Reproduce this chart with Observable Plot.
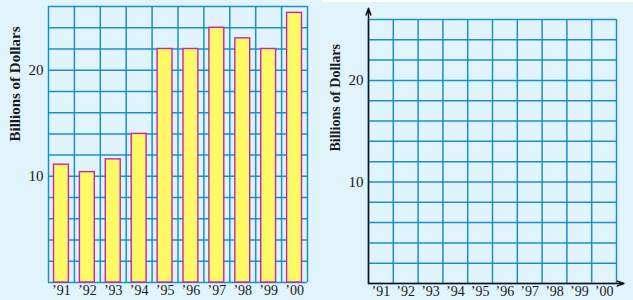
<!DOCTYPE html>
<html>
<head>
<meta charset="utf-8">
<script src="https://cdn.jsdelivr.net/npm/d3@7"></script>
<script src="https://cdn.jsdelivr.net/npm/@observablehq/plot@0.6"></script>
<style>
  html, body { margin: 0; padding: 0; background: #e1f4fc; }
  #wrap { position: relative; width: 633px; height: 300px; display: flex; flex-direction: row; overflow: hidden; }
  #wrap svg { display: block; }
  #strip { position: absolute; left: 322px; top: 0; width: 311px; height: 1.5px; background: #ffffff; }
</style>
</head>
<body>
<div id="wrap"><div id="left"></div><div id="right"></div><div id="strip"></div></div>
<script>
// ---- data ----
const years = ["\u201991", "\u201992", "\u201993", "\u201994", "\u201995", "\u201996", "\u201997", "\u201998", "\u201999", "\u201900"];
const billions = [11.1, 10.4, 11.6, 14, 22, 22, 24, 23, 22, 25.4];
const yMax = 26;
const yGridStep = 2;
const yTickValues = [10, 20];
const yLabel = "Billions of Dollars";

// ---- style ----
const GRID = "#1a8fca";
const BAR_FILL = "#fdfa66";
const BAR_STROKE = "#cc22aa";
const FONT = "'Liberation Serif', 'DejaVu Serif', serif";

const n = years.length;
const colEdges = d3.range(0, n + 1);
const colCenters = years.map((d, i) => i + 0.5);
const yGrid = d3.range(0, yMax + 1, yGridStep);

const gridMarks = [
  Plot.gridY(yGrid, {stroke: GRID, strokeOpacity: 1, strokeWidth: 1.5}),
  Plot.gridX(colEdges, {stroke: GRID, strokeOpacity: 1, strokeWidth: 1.5})
];

const left = Plot.plot({
  width: 320, height: 300,
  marginLeft: 48, marginRight: 13, marginTop: 6, marginBottom: 18,
  style: {background: "transparent", fontFamily: FONT, color: "#1a1a1a"},
  x: {domain: [0, n], axis: null},
  y: {domain: [0, yMax], axis: null},
  marks: [
    ...gridMarks,
    Plot.rect(billions, {
      x1: (d, i) => i, x2: (d, i) => i + 1, y1: 0, y2: d => d,
      insetLeft: 5.5, insetRight: 5.5,
      fill: BAR_FILL, stroke: BAR_STROKE, strokeWidth: 1.4
    }),
    Plot.axisY(yTickValues, {tickSize: 0, tickPadding: 5, fontSize: 15, label: null}),
    Plot.axisX(colCenters, {tickSize: 0, tickPadding: 3, fontSize: 14, label: null,
      tickFormat: v => years[Math.floor(v)]}),
    Plot.text([yLabel], {text: d => d, frameAnchor: "left", rotate: -90, dx: -33, dy: -3,
      fontWeight: "bold", fontSize: 15})
  ]
});

const right = Plot.plot({
  width: 313, height: 300,
  marginLeft: 48, marginRight: 17, marginTop: 19, marginBottom: 17,
  style: {background: "transparent", fontFamily: FONT, color: "#1a1a1a", overflow: "visible"},
  x: {domain: [0, n], axis: null},
  y: {domain: [0, yMax], axis: null},
  marks: [
    ...gridMarks,
    Plot.arrow([0], {x1: 0, y1: 0, x2: 0, y2: yMax + 1.1, stroke: "#111", strokeWidth: 1.5,
      headLength: 7, headAngle: 40}),
    Plot.arrow([0], {x1: 0, y1: 0, x2: n + 0.3, y2: 0, stroke: "#111", strokeWidth: 1.5,
      headLength: 7, headAngle: 40}),
    Plot.axisY(yTickValues, {tickSize: 0, tickPadding: 5, fontSize: 15, label: null}),
    Plot.axisX(colCenters, {tickSize: 0, tickPadding: 3, fontSize: 14, label: null,
      tickFormat: v => years[Math.floor(v)]}),
    Plot.text([yLabel], {text: d => d, frameAnchor: "left", rotate: -90, dx: -33,
      fontWeight: "bold", fontSize: 14})
  ]
});

document.getElementById("left").appendChild(left);
document.getElementById("right").appendChild(right);
</script>
</body>
</html>
